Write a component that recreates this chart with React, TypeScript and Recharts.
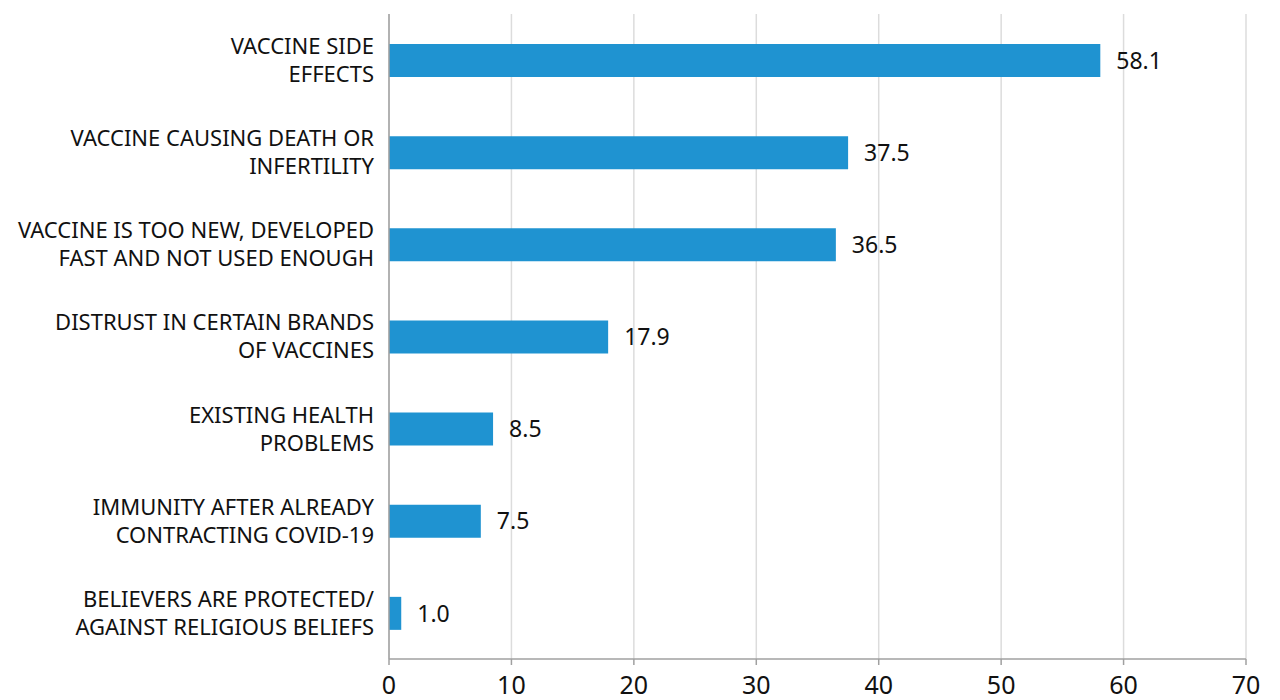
import React from 'react';
import { BarChart, Bar, XAxis, YAxis, CartesianGrid, LabelList } from 'recharts';

const categories = [
  'VACCINE SIDE|EFFECTS',
  'VACCINE CAUSING DEATH OR|INFERTILITY',
  'VACCINE IS TOO NEW, DEVELOPED|FAST AND NOT USED ENOUGH',
  'DISTRUST IN CERTAIN BRANDS|OF VACCINES',
  'EXISTING HEALTH|PROBLEMS',
  'IMMUNITY AFTER ALREADY|CONTRACTING COVID-19',
  'BELIEVERS ARE PROTECTED/|AGAINST RELIGIOUS BELIEFS',
];
const values = [58.1, 37.5, 36.5, 17.9, 8.5, 7.5, 1.0];
const xTicks = [0, 10, 20, 30, 40, 50, 60, 70];

const data = categories.map((name, i) => ({ name, value: values[i] }));

const FONT = '"Noto Sans", sans-serif';

const CategoryTick = (props: any) => {
  const { x, y, payload } = props;
  const lines = String(payload.value).split('|');
  return (
    <g transform={`translate(${x},${y})`}>
      {lines.map((line, i) => (
        <text
          key={i}
          x={3}
          y={(i - (lines.length - 1) / 2) * 28}
          dy="0.36em"
          textAnchor="end"
          fontSize={22}
          fontFamily={FONT}
          fill="#111"
        >
          {line}
        </text>
      ))}
    </g>
  );
};

const ValueTick = (props: any) => {
  const { x, y, payload } = props;
  return (
    <text x={x} y={y + 27} textAnchor="middle" fontSize={25} fontFamily={FONT} fill="#111">
      {payload.value}
    </text>
  );
};

export default function App() {
  return (
    <div style={{ position: 'absolute', left: 0, top: 0, width: 1280, height: 700, background: '#fff' }}>
      <BarChart
        width={1280}
        height={700}
        data={data}
        layout="vertical"
        margin={{ top: 14, right: 34, bottom: 0, left: 0 }}
      >
        <CartesianGrid horizontal={false} stroke="#dcdcdc" strokeWidth={1.5} />
        <XAxis
          type="number"
          domain={[0, 70]}
          ticks={xTicks}
          height={41}
          stroke="#a0a0a0"
          strokeWidth={1.5}
          tickSize={6}
          tick={<ValueTick />}
        />
        <YAxis
          type="category"
          dataKey="name"
          width={389}
          stroke="#a0a0a0"
          strokeWidth={1.5}
          tickLine={false}
          tickSize={16}
          tick={<CategoryTick />}
        />
        <Bar dataKey="value" fill="#1f93d1" barSize={33} isAnimationActive={false}>
          <LabelList
            dataKey="value"
            position="right"
            offset={16}
            formatter={(v: any) => Number(v).toFixed(1)}
            style={{ fontSize: 23, fontFamily: FONT, fill: '#111' }}
          />
        </Bar>
      </BarChart>
    </div>
  );
}
